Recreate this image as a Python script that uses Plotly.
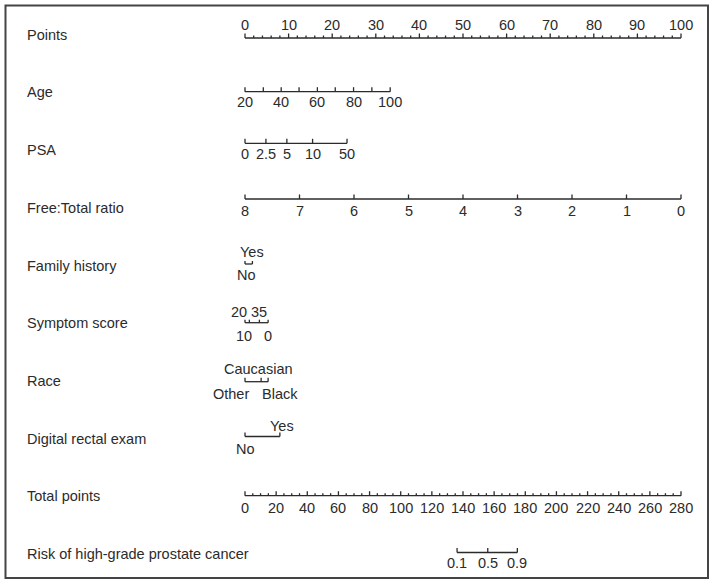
import plotly.graph_objects as go

# ---------------- data ----------------
row_names = ["Points", "Age", "PSA", "Free:Total ratio", "Family history",
             "Symptom score", "Race", "Digital rectal exam", "Total points",
             "Risk of high-grade prostate cancer"]

points_major = [0, 10, 20, 30, 40, 50, 60, 70, 80, 90, 100]
points_minor = [2, 4, 6, 8, 12, 14, 16, 18, 22, 24, 26, 28, 32, 34, 36, 38,
                42, 44, 46, 48, 52, 54, 56, 58, 62, 64, 66, 68, 72, 74, 76, 78,
                82, 84, 86, 88, 92, 94, 96, 98]

age_values = [20, 30, 40, 50, 60, 70, 80, 90, 100]
age_points = [0, 4.2, 8.3, 12.4, 16.6, 20.7, 24.9, 29.1, 33.3]
age_labels = ["20", "", "40", "", "60", "", "80", "", "100"]

psa_labels = ["0", "2.5", "5", "10", "50"]
psa_points = [0, 4.8, 9.6, 15.5, 23.4]

ftr_labels = ["8", "7", "6", "5", "4", "3", "2", "1", "0"]
ftr_points = [0, 12.5, 25, 37.5, 50, 62.5, 75, 87.5, 100]

fh_labels = ["No", "Yes"]
fh_points = [0, 1.7]

sym_labels = ["10", "20", "35", "0"]
sym_points = [0, 1.0, 3.3, 5.3]

race_labels = ["Other", "Caucasian", "Black"]
race_points = [0, 3.7, 5.3]

dre_labels = ["No", "Yes"]
dre_points = [0, 8.0]

total_major = [0, 20, 40, 60, 80, 100, 120, 140, 160, 180, 200, 220, 240, 260, 280]
total_minor = [5, 10, 15, 25, 30, 35, 45, 50, 55, 65, 70, 75, 85, 90, 95,
               105, 110, 115, 125, 130, 135, 145, 150, 155, 165, 170, 175,
               185, 190, 195, 205, 210, 215, 225, 230, 235, 245, 250, 255,
               265, 270, 275]
total_max = 280

risk_labels = ["0.1", "0.5", "0.9"]
risk_total = [136.2, 155.9, 174.9]

# ---------------- layout constants ----------------
W, H = 714, 585
X0, X1 = 245, 681          # pixel of 0 and 100 points
PPU = (X1 - X0) / 100.0
xr = [(0 - X0) / PPU, (W - X0) / PPU]
row_y = [38, 91.7, 143.3, 199, 264, 322.7, 381.7, 436.5, 495.7, 552.5]
name_y = [35, 92, 150, 208, 266, 323, 381, 439, 496, 554]
INK = "#2b2b2b"
FONT = "Liberation Sans, Arial, Helvetica, sans-serif"
FS = 14.5
MAJ, MIN = 4.5, 2.5

lx, ly = [], []
ann = []


def seg(x0, x1, y):
    lx.extend([x0, x1, None]); ly.extend([y, y, None])


def tick(x, y, L):
    lx.extend([x, x, None]); ly.extend([y, y - L, None])


def label(x, y, t, xshift=0, anchor="center"):
    ann.append(dict(x=x, y=y, text=t, xref="x", yref="y", showarrow=False,
                    xanchor=anchor, yanchor="middle", xshift=xshift,
                    font=dict(family=FONT, size=FS, color=INK)))


def scale_pts(v):
    return v * 100.0 / total_max

# Points
y = row_y[0]
seg(points_major[0], points_major[-1], y)
for v in points_major:
    tick(v, y, MAJ); label(v, y - 13, str(v))
for v in points_minor:
    tick(v, y, MIN)

# Age
y = row_y[1]
seg(age_points[0], age_points[-1], y)
for p, t in zip(age_points, age_labels):
    tick(p, y, MAJ)
    if t:
        label(p, y + 10.5, t)

# PSA
y = row_y[2]
seg(psa_points[0], psa_points[-1], y)
for p, t in zip(psa_points, psa_labels):
    tick(p, y, MAJ); label(p, y + 11, t)

# Free:Total ratio
y = row_y[3]
seg(ftr_points[0], ftr_points[-1], y)
for p, t in zip(ftr_points, ftr_labels):
    tick(p, y, MAJ); label(p, y + 11.5, t)

# Family history
y = row_y[4]
seg(fh_points[0], fh_points[-1], y)
for p in fh_points:
    tick(p, y, 3)
label(fh_points[0], y + 11, fh_labels[0], xshift=1)
label(fh_points[1], y - 12, fh_labels[1], xshift=0)

# Symptom score
y = row_y[5]
seg(min(sym_points), max(sym_points), y)
for p in sym_points:
    tick(p, y, 3)
label(sym_points[0], y + 13, sym_labels[0], xshift=-1)
label(sym_points[1], y - 11, sym_labels[1], xshift=-10)
label(sym_points[2], y - 11, sym_labels[2], xshift=0)
label(sym_points[3], y + 13, sym_labels[3], xshift=0)

# Race
y = row_y[6]
seg(min(race_points), max(race_points), y)
for p in race_points:
    tick(p, y, 4)
label(race_points[0], y + 12.5, race_labels[0], xshift=-14)
label(race_points[1], y - 12.5, race_labels[1], xshift=-3)
label(race_points[2], y + 12.5, race_labels[2], xshift=12)

# Digital rectal exam
y = row_y[7]
seg(dre_points[0], dre_points[-1], y)
for p in dre_points:
    tick(p, y, 4)
label(dre_points[0], y + 12.5, dre_labels[0])
label(dre_points[1], y - 10.5, dre_labels[1], xshift=2)

# Total points
y = row_y[8]
seg(scale_pts(total_major[0]), scale_pts(total_major[-1]), y)
for v in total_major:
    tick(scale_pts(v), y, MAJ); label(scale_pts(v), y + 12.5, str(v))
for v in total_minor:
    tick(scale_pts(v), y, MIN)

# Risk
y = row_y[9]
seg(scale_pts(risk_total[0]), scale_pts(risk_total[-1]), y)
for v, t in zip(risk_total, risk_labels):
    tick(scale_pts(v), y, MAJ); label(scale_pts(v), y + 10.5, t)

# Row names
for name, yy in zip(row_names, name_y):
    ann.append(dict(x=25 / W, y=yy, xref="paper", yref="y", text=name,
                    showarrow=False, xanchor="left", yanchor="middle",
                    font=dict(family=FONT, size=FS, color=INK)))

fig = go.Figure(go.Scatter(x=lx, y=ly, mode="lines",
                           line=dict(color=INK, width=1.3),
                           hoverinfo="skip", showlegend=False))

fig.update_layout(
    width=W, height=H,
    margin=dict(l=0, r=0, t=0, b=0),
    paper_bgcolor="white", plot_bgcolor="white",
    xaxis=dict(range=xr, visible=False, fixedrange=True),
    yaxis=dict(range=[H, 0], visible=False, fixedrange=True),
    annotations=ann,
    shapes=[dict(type="rect", xref="paper", yref="paper",
                 x0=5.5 / W, x1=708 / W, y0=1 - 5.5 / H, y1=1 - 578 / H,
                 line=dict(color="#444444", width=2))],
)

fig.write_html("out.html", config={"displayModeBar": False},
               post_script="document.body.style.margin='0';document.body.style.overflow='hidden';")
